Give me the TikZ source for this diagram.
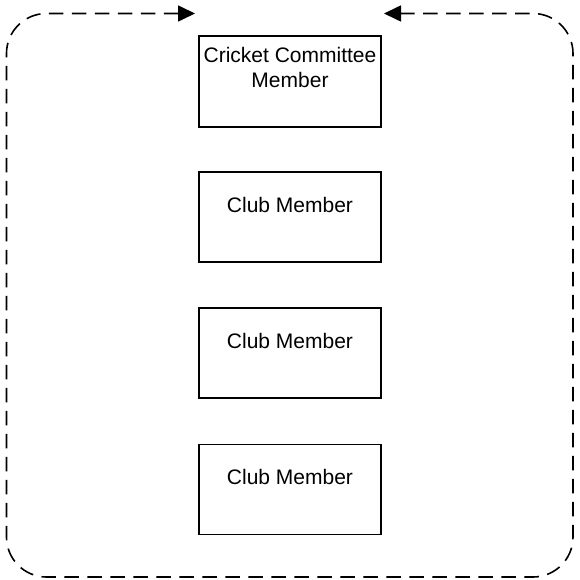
\documentclass[tikz,border=0pt]{standalone}
\usepackage{fontspec}
\setmainfont{Liberation Sans}
\usetikzlibrary{arrows.meta}

\tikzset{
  member/.style={draw, line width=1.5pt, minimum width=182pt, inner xsep=0pt,
    inner ysep=0pt, align=center, text height=40pt, text depth=50pt,
    font=\fontsize{21}{25}\selectfont},
  loopline/.style={line width=1.6pt, dash pattern=on 14.5pt off 8.5pt,
    rounded corners=40pt, {Triangle[length=17pt,width=16pt]}-{Triangle[length=17pt,width=16pt]}}
}

\begin{document}
\begin{tikzpicture}[x=1pt, y=-1pt]
  \useasboundingbox (0,0) rectangle (579,580);

  \node[member, text height=52pt, text depth=39pt]
    (cc) at (290, 81.5) {Cricket Committee\\Member};

  \node[member] (m1) at (290, 217) {Club Member};

  \node[member] (m2) at (290, 353) {Club Member};

  \node[member] (m3) at (290, 489.5) {Club Member};

  \coordinate (inL) at (195, 13.5);
  \coordinate (inR) at (384, 13.5);

  \draw[loopline] (inL) -- (6.5, 13.5) -- (6.5, 577) -- (573, 577)
                  -- (573, 13.5) -- (inR);

\end{tikzpicture}
\end{document}
